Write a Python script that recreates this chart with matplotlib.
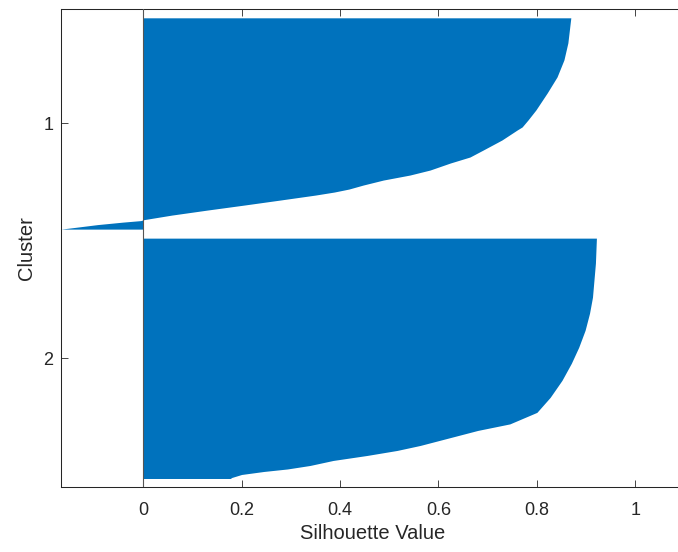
import numpy as np
import matplotlib
matplotlib.use('Agg')
import matplotlib.pyplot as plt

# silhouette profile
# rank = position inside the cluster (0 = top edge), values sorted descending
cluster_names = ['1', '2']
cluster_sizes = [211, 240]

c1_rank = [0, 25, 42, 59, 75, 92, 102, 109, 112, 122, 132, 139, 145, 152,
           157, 162, 167, 171, 174, 177, 182, 187, 192, 197, 201.5, 202.5,
           204, 206.5, 209.5, 211]
c1_val = [0.869, 0.863, 0.855, 0.841, 0.821, 0.798, 0.782, 0.770, 0.760,
          0.729, 0.691, 0.664, 0.624, 0.583, 0.542, 0.488, 0.447, 0.418,
          0.388, 0.350, 0.278, 0.205, 0.130, 0.058, 0.002, -0.005, -0.041,
          -0.093, -0.142, -0.167]

c2_rank = [0, 25, 42, 59, 75, 92, 109, 125, 142, 159, 174, 185.5, 192, 207,
           212, 217, 222, 227, 230.5, 233, 236, 239, 240]
c2_val = [0.921, 0.919, 0.916, 0.913, 0.907, 0.898, 0.885, 0.870, 0.851,
          0.827, 0.800, 0.745, 0.680, 0.563, 0.516, 0.455, 0.386, 0.339,
          0.293, 0.245, 0.200, 0.180, 0.177]

xticks = [0, 0.2, 0.4, 0.6, 0.8, 1]
xticklabels = ['0', '0.2', '0.4', '0.6', '0.8', '1']

bar_color = '#0072BD'
txt_color = '#262626'

plt.rcParams['font.family'] = ['Liberation Sans', 'DejaVu Sans']

# layout of bars like matlab silhouette(): gaps of 'space' empty rows
n = sum(cluster_sizes)
space = max(int(np.floor(0.02 * n)), 2)
starts = []
pos = space
for size in cluster_sizes:
    starts.append(pos + 1)
    pos += size + space
nrows = pos
tcks = [s + (size - 1) / 2 for s, size in zip(starts, cluster_sizes)]

xmin = min(min(c1_val), min(c2_val))

fig = plt.figure(figsize=(6.78, 5.52), dpi=100)
ax = fig.add_axes([61 / 678, (552 - 487) / 552, (684.5 - 61) / 678,
                   (487 - 9.3) / 552])

for start, rank, val in [(starts[0], c1_rank, c1_val),
                         (starts[1], c2_rank, c2_val)]:
    y = start - 0.5 + np.array(rank)
    ax.fill_betweenx(y, 0, np.array(val), color=bar_color, linewidth=0)

ax.axvline(0, color='#555555', lw=0.8, zorder=3)

ax.set_xlim(xmin, 1.1)
ax.set_ylim(nrows, 1)
ax.set_xticks(xticks)
ax.set_xticklabels(xticklabels)
ax.set_yticks(tcks)
ax.set_yticklabels(cluster_names)

ax.tick_params(axis='both', direction='in', length=5, width=0.6,
               colors=txt_color, labelsize=13, top=True, right=True)
ax.tick_params(axis='x', pad=10.5)
ax.tick_params(axis='y', pad=5.5)
for sp in ax.spines.values():
    sp.set_color(txt_color)
    sp.set_linewidth(0.75)

ax.set_xlabel('Silhouette Value', fontsize=14.5, color=txt_color)
ax.set_ylabel('Cluster', fontsize=14.5, color=txt_color)
ax.xaxis.set_label_coords((372.7 - 61) / 623.5, -(524 - 487) / 477.7)
ax.yaxis.set_label_coords((36 - 61) / 623.5, 0.5)

fig.savefig('out.png', dpi=100)
